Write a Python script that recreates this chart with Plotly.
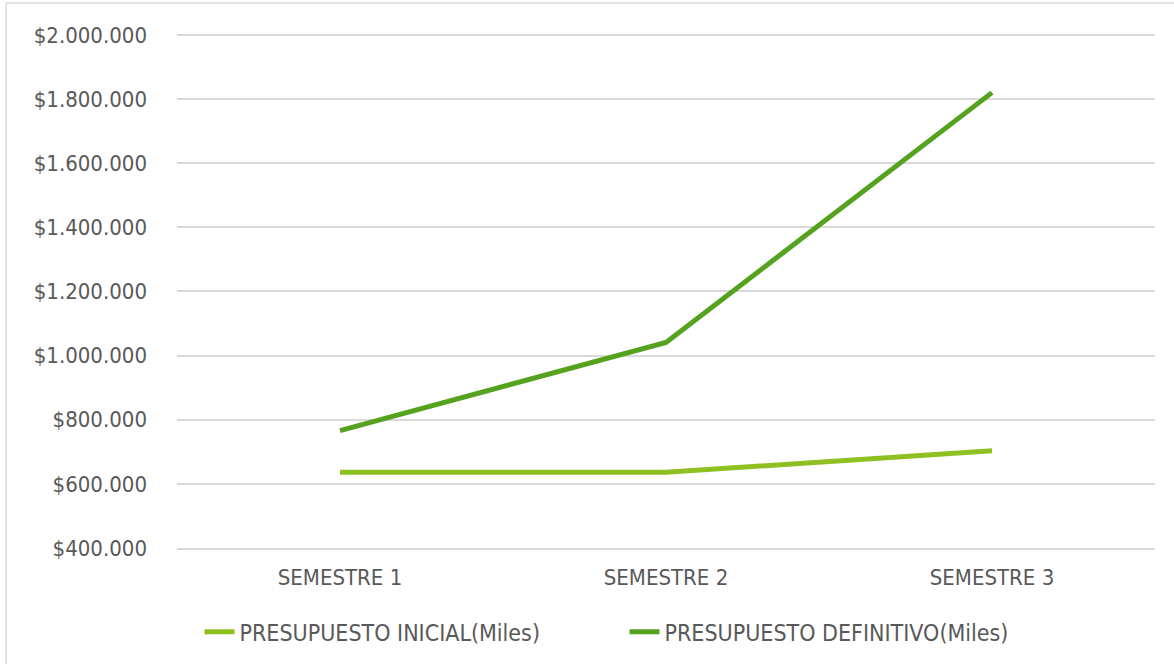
import plotly.graph_objects as go

categories = ["SEMESTRE 1", "SEMESTRE 2", "SEMESTRE 3"]
inicial = [636000, 636000, 703000]
definitivo = [766000, 1041000, 1820000]
series_names = ["PRESUPUESTO INICIAL(Miles)", "PRESUPUESTO DEFINITIVO(Miles)"]
tick_vals = [400000, 600000, 800000, 1000000, 1200000, 1400000, 1600000, 1800000, 2000000]
tick_text = ["$" + f"{v:,}".replace(",", ".") for v in tick_vals]

FONT = "DejaVu Sans Condensed, DejaVu Sans, sans-serif"
GRAY = "#595959"
FS = 22

fig = go.Figure()
fig.add_trace(go.Scatter(x=categories, y=inicial, mode="lines", name=series_names[0],
                         line=dict(color="#8FC022", width=5)))
fig.add_trace(go.Scatter(x=categories, y=definitivo, mode="lines", name=series_names[1],
                         line=dict(color="#55A21F", width=5)))

fig.update_layout(
    width=1174, height=664,
    margin=dict(l=177, r=19, t=32, b=115),
    paper_bgcolor="white", plot_bgcolor="white",
    font=dict(family=FONT, size=FS, color=GRAY),
    showlegend=True,
    legend=dict(orientation="h", x=0.023, xanchor="left", y=-0.16, yanchor="middle",
                entrywidth=380, entrywidthmode="pixels",
                font=dict(family=FONT, size=23, color=GRAY)),
    shapes=[
        dict(type="line", xref="paper", yref="paper", x0=-0.1748, x1=1.1, y0=1.0564, y1=1.0564,
             line=dict(color="#D9D9D9", width=1.5)),
        dict(type="line", xref="paper", yref="paper", x0=-0.1748, x1=-0.1748, y0=1.0564, y1=-0.3,
             line=dict(color="#D9D9D9", width=1.5)),
    ],
)
fig.update_xaxes(range=[-0.5, 2.5], showgrid=False, showline=True, linecolor="#D9D9D9", linewidth=1.5,
                 ticks="", ticklabelstandoff=9, tickfont=dict(size=FS, color=GRAY))
fig.update_yaxes(range=[400000, 2009000], tickvals=tick_vals, ticktext=tick_text,
                 showgrid=True, gridcolor="#D9D9D9", gridwidth=1.5, zeroline=False,
                 showline=False, ticks="", ticklabelstandoff=29,
                 tickfont=dict(size=FS, color=GRAY))

fig.write_html("out.html", config={"displayModeBar": False},
               post_script="document.body.style.margin='0';document.body.style.overflow='hidden';")
